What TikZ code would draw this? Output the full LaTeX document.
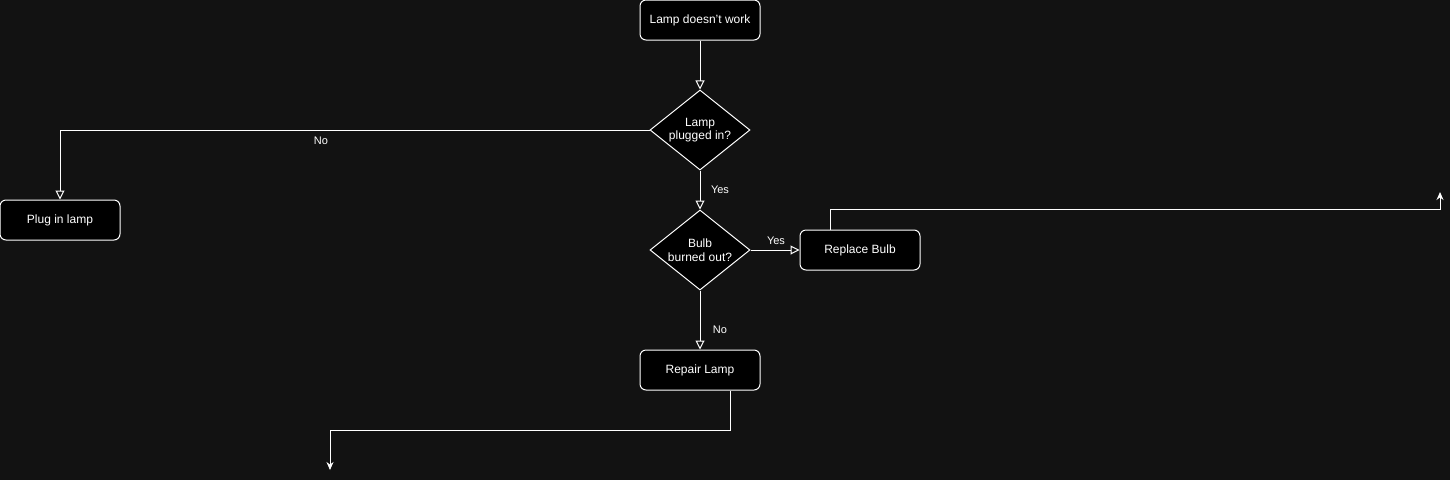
\documentclass[tikz,border=0pt]{standalone}
\usepackage{fontspec}
\setmainfont{Liberation Sans}
\usetikzlibrary{positioning,arrows.meta,shapes.geometric}
\definecolor{canvas}{HTML}{121212}

\begin{document}
\begin{tikzpicture}[x=1pt, y=-1pt,
  box/.style={draw=white, fill=black, rounded corners=6pt, line width=1pt,
              minimum width=120pt, minimum height=40pt, inner sep=0pt,
              text=white, font=\fontsize{12}{14}\selectfont},
  decision/.style={diamond, draw=white, fill=black, line width=1pt,
              minimum width=100pt, minimum height=80pt, inner sep=0pt, aspect=1.25,
              align=center, text=white, font=\fontsize{12}{13.5}\selectfont},
  arr/.style={draw=white, line width=1pt, -{Triangle[open, length=9pt, width=9pt]}},
  link/.style={draw=white, line width=1pt, -{Stealth[length=8pt, width=7pt]}},
  lbl/.style={text=white, font=\fontsize{11}{13}\selectfont}
]
  % canvas
  \fill[canvas] (0,0) rectangle (1450,480);
  \useasboundingbox (0,0) rectangle (1450,480);

  % Boxes and decisions
  \node[box] (start) at (700,20) {Lamp doesn't work};
  \node[decision] (plugged) at (700,130) {Lamp\\plugged in?};
  \node[box] (pluglamp) at (60,220) {Plug in lamp};
  \node[decision] (bulb) at (700,250) {Bulb\\burned out?};
  \node[box] (replace) at (860,250) {Replace Bulb};
  \node[box] (repair) at (700,370) {Repair Lamp};

  % loose ends
  \coordinate (upend) at (1440,192);
  \coordinate (downend) at (330,470);

  % Connectors
  \draw[arr] (start) -- (plugged);
  \draw[arr] (plugged.west) -| (pluglamp.north);
  \node[lbl] (no1) at (321,141) {No};

  \draw[arr] (plugged) -- (bulb);
  \node[lbl] (yes1) at (720,190) {Yes};

  \draw[arr] (bulb) -- (replace);
  \node[lbl] (yes2) at (776,241) {Yes};

  \draw[arr] (bulb) -- (repair);
  \node[lbl] (no2) at (720,330) {No};

  \draw[link] ([xshift=-30pt]replace.north) -- ++(0,-20) -| (upend);
  \draw[link] ([xshift=30pt]repair.south) -- ++(0,40) -| (downend);
\end{tikzpicture}
\end{document}
